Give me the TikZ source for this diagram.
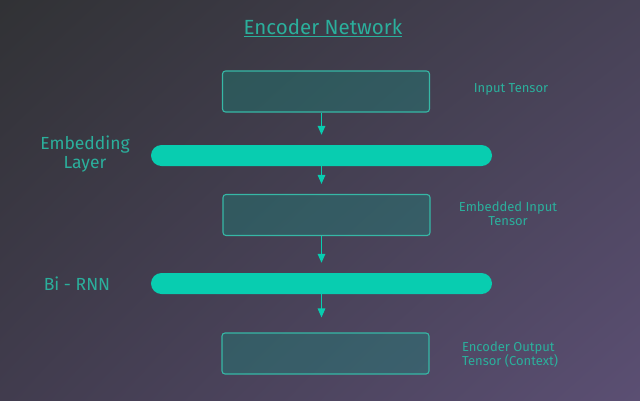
\documentclass[tikz,border=0pt]{standalone}
\usepackage{fontspec}
\setmainfont{Fira Sans}
\usepackage{xcolor}
\usetikzlibrary{arrows.meta,shadings}

\definecolor{bgtl}{HTML}{313235}
\definecolor{bgtr}{HTML}{474256}
\definecolor{bgbl}{HTML}{413C4E}
\definecolor{bgbr}{HTML}{5B4F73}
\definecolor{tealtext}{HTML}{2BAF9C}
\definecolor{tealbar}{HTML}{08CDB0}
\definecolor{tealline}{HTML}{36B8A6}
\definecolor{tealfill}{HTML}{158E7F}

\tikzset{
  tensorbox/.style={draw=tealline,line width=1.1pt,rounded corners=3pt,
    fill=tealfill,fill opacity=0.35,draw opacity=1,text opacity=1,
    minimum width=207pt,minimum height=41pt,inner sep=0pt},
  layerbar/.style={fill=tealbar,rounded corners=10.5pt,
    minimum width=341pt,minimum height=21pt,inner sep=0pt},
  flow/.style={draw=tealbar,line width=1.4pt,shorten >=10pt,
    -{Triangle[width=7.5pt,length=9pt]}},
  tag/.style={text=tealtext,font=\fontsize{13}{14}\selectfont},
  sidetag/.style={text=tealtext,font=\fontsize{17.5}{19}\selectfont,align=center}
}

\begin{document}
\begin{tikzpicture}[x=1pt,y=-1pt]
       % background
       \shade[upper left=bgtl,upper right=bgtr,lower left=bgbl,lower right=bgbr]
         (0,0) rectangle (640,400);
       \useasboundingbox (0,0) rectangle (640,400);

       \node[text=tealtext,font=\fontsize{20.5}{23}\selectfont] (title) at (323,28)
         {\underline{Encoder Network}};

       % boxes and layers
       \node[tensorbox] (input) at (326,91.5) {};
       \node[layerbar] (embed) at (321.5,155.5) {};
       \node[tensorbox] (embedded) at (326.5,215) {};
       \node[layerbar] (birnn) at (321.5,283.5) {};
       \node[tensorbox] (output) at (325.5,353.5) {};

       % labels
       \node[tag] (inputtag) at (511,89) {Input Tensor};
       \node[sidetag] (embedtag) at (85,154) {Embedding\\Layer};
       \node[tag,align=center] (embeddedtag) at (508,214) {Embedded Input\\Tensor};
       \node[sidetag] (birnntag) at (77,284) {Bi - RNN};
       \node[tag,align=left] (outputtag) at (510,355) {Encoder Output\\Tensor (Context)};

       % arrows
       \draw[flow] (input.south -| embed.center) -- (embed.north);
       \draw[flow] (embed.south) -- (embedded.north -| embed.center);
       \draw[flow] (embedded.south -| birnn.center) -- (birnn.north);
       \draw[flow,shorten >=15pt] (birnn.south) -- (output.north -| birnn.center);
     \end{tikzpicture}
\end{document}
